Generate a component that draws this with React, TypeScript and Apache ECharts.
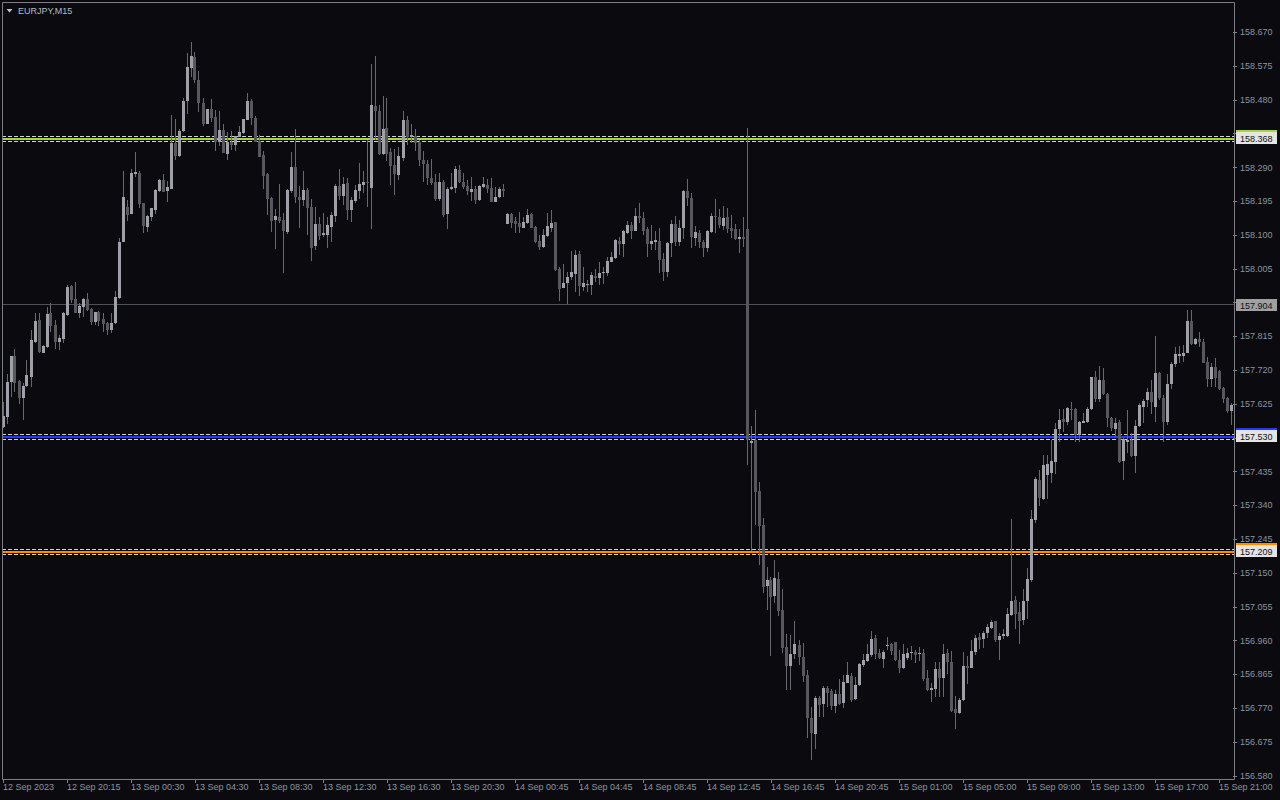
import React, { useEffect, useRef } from "react";
import * as echarts from "echarts";

// ---- Data (EURJPY, M15) ----
const opens = [
  157.561,157.590,157.687,157.760,157.690,157.642,157.676,157.702,157.800,157.861,
  157.769,157.785,157.882,157.847,157.800,157.809,157.875,157.958,157.921,157.882,
  157.899,157.921,157.892,157.857,157.884,157.864,157.853,157.833,157.854,157.924,
  158.080,158.178,158.159,158.273,158.276,158.189,158.124,158.152,158.171,158.225,
  158.255,158.224,158.230,158.360,158.323,158.393,158.478,158.569,158.601,158.536,
  158.471,158.413,158.455,158.432,158.363,158.396,158.328,158.363,158.353,158.377,
  158.387,158.424,158.477,158.430,158.365,158.325,158.272,158.204,158.142,158.150,
  158.142,158.109,158.224,158.292,158.208,158.199,158.227,158.180,158.069,158.131,
  158.100,158.100,158.123,158.155,158.238,158.211,158.246,158.171,158.197,158.225,
  158.241,158.249,158.233,158.463,158.450,158.328,158.400,158.335,158.297,158.269,
  158.318,158.424,158.375,158.379,158.363,158.311,158.300,158.260,158.250,158.201,
  158.250,158.159,158.229,158.233,158.283,158.250,158.238,158.221,158.231,158.199,
  158.236,158.241,158.232,158.194,158.206,158.231,158.131,158.159,158.140,158.135,
  158.121,158.133,158.159,158.124,158.084,158.067,158.098,158.121,158.137,158.006,
  157.950,157.966,157.981,157.990,158.047,157.955,157.960,157.960,157.985,157.980,
  157.994,157.994,158.025,158.037,158.084,158.075,158.105,158.128,158.111,158.154,
  158.147,158.116,158.075,158.082,158.084,158.032,157.996,158.077,158.131,158.082,
  158.119,158.224,158.203,158.092,158.105,158.082,158.065,158.109,158.154,158.151,
  158.126,158.152,158.121,158.116,158.090,158.095,158.118,157.516,157.523,157.382,
  157.284,157.114,157.129,157.086,157.132,157.045,156.942,156.890,156.922,156.948,
  156.914,156.862,156.743,156.697,156.800,156.782,156.826,156.818,156.776,156.810,
  156.784,156.842,156.860,156.795,156.835,156.891,156.903,156.919,156.966,156.926,
  156.908,156.946,156.950,156.955,156.905,156.882,156.910,156.924,156.928,156.923,
  156.924,156.854,156.821,156.824,156.879,156.854,156.924,156.901,156.768,156.757,
  156.793,156.889,156.884,156.929,156.971,156.964,156.982,156.996,157.015,156.962,
  156.973,156.973,157.032,157.074,157.040,157.018,157.071,157.130,157.299,157.412,
  157.358,157.426,157.432,157.463,157.555,157.583,157.575,157.612,157.610,157.538,
  157.573,157.575,157.611,157.700,157.638,157.693,157.653,157.587,157.554,157.575,
  157.466,157.517,157.524,157.479,157.563,157.617,157.636,157.659,157.617,157.713,
  157.643,157.575,157.681,157.738,157.760,157.760,157.769,157.859,157.793,157.808,
  157.800,157.744,157.696,157.730,157.719,157.669,157.643,157.606,
];
const highs = [
  157.632,157.710,157.760,157.779,157.693,157.683,157.749,157.833,157.880,157.882,
  157.791,157.899,157.908,157.861,157.819,157.885,157.960,157.961,157.967,157.908,
  157.922,157.936,157.894,157.885,157.886,157.880,157.857,157.880,157.944,158.093,
  158.281,158.199,158.285,158.335,158.280,158.189,158.157,158.177,158.230,158.258,
  158.272,158.253,158.438,158.426,158.398,158.485,158.611,158.642,158.614,158.561,
  158.485,158.455,158.483,158.452,158.449,158.412,158.391,158.393,158.380,158.408,
  158.426,158.499,158.483,158.435,158.381,158.337,158.274,158.208,158.173,158.243,
  158.161,158.230,158.334,158.398,158.238,158.280,158.233,158.201,158.178,158.150,
  158.161,158.152,158.164,158.243,158.286,158.264,158.260,158.208,158.241,158.302,
  158.280,158.367,158.581,158.603,158.466,158.491,158.485,158.344,158.342,158.349,
  158.449,158.435,158.412,158.397,158.367,158.337,158.311,158.313,158.272,158.276,
  158.255,158.234,158.274,158.295,158.297,158.276,158.255,158.262,158.238,158.241,
  158.262,158.257,158.260,158.234,158.234,158.244,158.161,158.161,158.152,158.166,
  158.150,158.174,158.161,158.126,158.100,158.116,158.163,158.171,158.137,158.011,
  158.018,157.997,158.055,158.058,158.055,158.011,157.974,157.996,158.004,158.024,
  158.011,158.038,158.053,158.088,158.095,158.114,158.140,158.138,158.175,158.191,
  158.166,158.124,158.128,158.111,158.121,158.049,158.082,158.143,158.154,158.143,
  158.227,158.258,158.219,158.126,158.114,158.086,158.114,158.161,158.201,158.173,
  158.182,158.177,158.157,158.131,158.116,158.152,158.402,157.563,157.607,157.405,
  157.306,157.166,157.140,157.187,157.152,157.105,156.979,156.977,157.016,156.963,
  156.952,156.877,156.774,156.804,156.804,156.833,156.833,156.823,156.821,156.851,
  156.863,156.901,156.868,156.858,156.898,156.921,156.950,156.987,156.977,156.936,
  156.934,156.969,156.952,156.955,156.934,156.950,156.940,156.944,156.934,156.941,
  156.936,156.877,156.842,156.901,156.901,156.950,156.936,156.930,156.804,156.799,
  156.927,156.917,156.962,156.976,156.982,156.988,157.006,157.018,157.015,156.980,
  156.993,157.051,157.302,157.085,157.069,157.105,157.165,157.327,157.419,157.440,
  157.482,157.482,157.524,157.573,157.611,157.611,157.617,157.632,157.613,157.576,
  157.601,157.617,157.702,157.719,157.732,157.726,157.657,157.589,157.587,157.580,
  157.531,157.608,157.543,157.580,157.629,157.638,157.669,157.693,157.816,157.716,
  157.651,157.710,157.744,157.786,157.788,157.791,157.890,157.890,157.810,157.828,
  157.807,157.758,157.740,157.754,157.721,157.674,157.646,157.627,
];
const lows = [
  157.558,157.569,157.646,157.660,157.625,157.580,157.674,157.674,157.797,157.769,
  157.768,157.782,157.828,157.779,157.777,157.797,157.873,157.908,157.880,157.868,
  157.870,157.888,157.847,157.847,157.845,157.828,157.819,157.826,157.850,157.921,
  158.080,158.140,158.159,158.264,158.175,158.107,158.110,158.140,158.159,158.220,
  158.220,158.194,158.230,158.311,158.320,158.391,158.440,158.545,158.529,158.445,
  158.408,158.412,158.417,158.337,158.351,158.330,158.312,158.339,158.337,158.376,
  158.385,158.423,158.410,158.361,158.320,158.230,158.157,158.110,158.061,158.133,
  157.993,158.103,158.219,158.191,158.121,158.182,158.100,158.028,158.058,158.086,
  158.095,158.065,158.082,158.138,158.199,158.185,158.143,158.138,158.189,158.201,
  158.218,158.180,158.117,158.367,158.325,158.325,158.309,158.241,158.213,158.255,
  158.308,158.353,158.358,158.337,158.295,158.248,158.241,158.241,158.197,158.197,
  158.152,158.117,158.227,158.219,158.246,158.229,158.213,158.197,158.188,158.197,
  158.232,158.219,158.194,158.194,158.203,158.208,158.131,158.119,158.107,158.107,
  158.119,158.131,158.119,158.079,158.058,158.065,158.095,158.110,158.000,157.916,
  157.950,157.906,157.974,157.939,157.928,157.944,157.941,157.932,157.969,157.960,
  157.963,157.985,158.025,158.032,158.044,158.039,158.103,158.088,158.111,158.133,
  158.100,158.039,158.058,158.058,157.993,157.972,157.982,158.038,158.068,158.068,
  158.089,158.183,158.065,158.068,158.063,158.038,158.053,158.105,158.107,158.119,
  158.114,158.105,158.091,158.086,158.049,158.066,157.455,157.212,157.286,157.172,
  157.094,157.047,156.917,157.065,157.030,156.925,156.822,156.822,156.907,156.892,
  156.845,156.687,156.624,156.654,156.746,156.746,156.774,156.765,156.757,156.779,
  156.770,156.840,156.788,156.793,156.831,156.887,156.901,156.915,156.907,156.907,
  156.884,156.934,156.919,156.903,156.870,156.879,156.905,156.905,156.898,156.903,
  156.847,156.818,156.788,156.801,156.801,156.801,156.866,156.760,156.712,156.753,
  156.791,156.838,156.882,156.919,156.936,156.940,156.968,156.994,156.955,156.905,
  156.964,156.971,157.029,156.993,156.951,157.004,157.020,157.126,157.292,157.338,
  157.355,157.358,157.404,157.429,157.519,157.546,157.566,157.580,157.517,157.517,
  157.571,157.573,157.608,157.632,157.632,157.651,157.561,157.549,157.533,157.460,
  157.412,157.487,157.477,157.431,157.561,157.573,157.617,157.597,157.575,157.636,
  157.517,157.566,157.666,157.730,157.740,157.744,157.768,157.791,157.791,157.786,
  157.740,157.674,157.672,157.672,157.665,157.629,157.599,157.566,
];
const closes = [
  157.592,157.687,157.760,157.685,157.642,157.676,157.706,157.805,157.859,157.772,
  157.788,157.879,157.845,157.800,157.810,157.880,157.955,157.918,157.880,157.901,
  157.921,157.890,157.857,157.884,157.859,157.850,157.833,157.852,157.927,158.082,
  158.206,158.157,158.276,158.278,158.188,158.127,158.154,158.175,158.227,158.255,
  158.222,158.235,158.360,158.323,158.393,158.477,158.573,158.604,158.536,158.471,
  158.412,158.455,158.430,158.363,158.396,158.332,158.361,158.353,158.380,158.391,
  158.426,158.477,158.430,158.363,158.320,158.267,158.201,158.140,158.154,158.140,
  158.112,158.227,158.292,158.208,158.199,158.227,158.176,158.065,158.131,158.097,
  158.105,158.128,158.157,158.238,158.211,158.244,158.171,158.199,158.227,158.243,
  158.249,158.247,158.466,158.450,158.328,158.398,158.328,158.294,158.272,158.322,
  158.424,158.377,158.381,158.360,158.311,158.300,158.260,158.246,158.201,158.250,
  158.157,158.230,158.235,158.286,158.250,158.234,158.224,158.231,158.199,158.238,
  158.244,158.231,158.194,158.207,158.230,158.225,158.159,158.135,158.131,158.122,
  158.137,158.157,158.121,158.082,158.066,158.100,158.126,158.135,158.002,157.948,
  157.964,157.981,157.995,158.044,157.957,157.965,157.963,157.987,157.980,157.994,
  157.997,158.027,158.039,158.086,158.075,158.111,158.128,158.111,158.154,158.147,
  158.111,158.075,158.084,158.086,158.030,157.996,158.077,158.131,158.082,158.119,
  158.224,158.203,158.095,158.109,158.082,158.065,158.111,158.155,158.151,158.128,
  158.149,158.116,158.111,158.090,158.095,158.090,157.525,157.521,157.377,157.283,
  157.110,157.129,157.082,157.135,157.044,156.939,156.890,156.921,156.950,156.915,
  156.861,156.743,156.701,156.800,156.779,156.826,156.812,156.776,156.810,156.782,
  156.844,156.863,156.793,156.835,156.894,156.905,156.922,156.964,156.922,156.910,
  156.927,156.948,156.931,156.905,156.882,156.922,156.924,156.928,156.919,156.926,
  156.851,156.821,156.826,156.879,156.854,156.922,156.901,156.763,156.757,156.793,
  156.889,156.884,156.931,156.968,156.962,156.982,156.998,157.013,156.962,156.973,
  156.979,157.035,157.071,157.035,157.016,157.071,157.133,157.302,157.414,157.362,
  157.454,157.457,157.465,157.555,157.580,157.575,157.614,157.609,157.538,157.575,
  157.577,157.611,157.700,157.638,157.693,157.653,157.587,157.558,157.573,157.463,
  157.526,157.524,157.479,157.563,157.622,157.635,157.659,157.630,157.713,157.643,
  157.575,157.681,157.738,157.766,157.766,157.769,157.859,157.793,157.808,157.800,
  157.741,157.696,157.730,157.698,157.667,157.640,157.606,157.622,
];

// time labels shown every 16 bars
const timeLabels = [
  "12 Sep 2023", "12 Sep 20:15", "13 Sep 00:30", "13 Sep 04:30", "13 Sep 08:30",
  "13 Sep 12:30", "13 Sep 16:30", "13 Sep 20:30", "14 Sep 00:45", "14 Sep 04:45",
  "14 Sep 08:45", "14 Sep 12:45", "14 Sep 16:45", "14 Sep 20:45", "15 Sep 01:00",
  "15 Sep 05:00", "15 Sep 09:00", "15 Sep 13:00", "15 Sep 17:00", "15 Sep 21:00",
];
const barsPerLabel = 16;

// tick marks of the price scale
const priceTicks = [
  156.580, 156.675, 156.770, 156.865, 156.960, 157.055, 157.150, 157.245,
  157.340, 157.435, 157.530, 157.625, 157.720, 157.815, 157.910, 158.005,
  158.100, 158.195, 158.290, 158.385, 158.480, 158.575, 158.670,
];
// tick labels that are visible (the others sit under the price tags)
const priceTickLabels = [
  156.580, 156.675, 156.770, 156.865, 156.960, 157.055, 157.150, 157.245,
  157.340, 157.435, 157.625, 157.720, 157.815, 158.005,
  158.100, 158.195, 158.290, 158.480, 158.575, 158.670,
];

const levelPrices = [158.368, 157.530, 157.209];
const levelColors = ["#a6d63a", "#2438ff", "#ff8c00"];
const bidPrice = 157.904;
const chartTitle = "EURJPY,M15";

const BG = "#0a0a0f";
const FRAME = "#7d7d84";
const LABEL = "#8c94a2";
const BULL = "#a0a0a8";
const BEAR = "#57575d";
const WICK = "#68686e";
const DASH = "#d4d4d8";
const FONT = "'Liberation Sans', Arial, sans-serif";

export default function App() {
  const ref = useRef<HTMLDivElement>(null);

  useEffect(() => {
    const el = ref.current as HTMLDivElement;
    const chart = echarts.init(el, null, { renderer: "svg" });
    const cats = opens.map((_, i) => String(i));
    const data = opens.map((o, i) => [i, o, closes[i], lows[i], highs[i]]);

    const option: any = {
      animation: false,
      backgroundColor: BG,
      grid: { left: 1, top: 2, width: 1232, height: 777 },
      xAxis: {
        type: "category",
        data: cats,
        boundaryGap: true,
        axisLine: { show: false },
        splitLine: { show: false },
        axisTick: {
          show: true,
          alignWithLabel: true,
          interval: (i: number) => i % barsPerLabel === 0,
          length: 4,
          lineStyle: { color: FRAME },
        },
        axisLabel: {
          interval: (i: number) => i % barsPerLabel === 0,
          formatter: (_v: string, i: number) => timeLabels[Math.round(i / barsPerLabel)] ?? "",
          align: "left",
          margin: 3,
          color: LABEL,
          fontSize: 9,
          fontFamily: FONT,
        },
      },
      yAxis: {
        type: "value",
        position: "right",
        min: 156.5709,
        max: 158.7554,
        axisLine: { show: false },
        splitLine: { show: false },
        axisTick: {
          show: true,
          customValues: priceTicks,
          length: 4,
          lineStyle: { color: FRAME },
        },
        axisLabel: {
          customValues: priceTickLabels,
          formatter: (v: number) => v.toFixed(3),
          margin: 7,
          color: LABEL,
          fontSize: 9,
          fontFamily: FONT,
        },
      },
      series: [
        {
          type: "custom",
          name: "EURJPY",
          data,
          encode: { x: 0, y: [1, 2, 3, 4] },
          z: 2,
          renderItem: (_params: any, api: any) => {
            const idx = api.value(0);
            const o = api.value(1);
            const c = api.value(2);
            const l = api.value(3);
            const h = api.value(4);
            const po = api.coord([idx, o]);
            const pc = api.coord([idx, c]);
            const pl = api.coord([idx, l]);
            const ph = api.coord([idx, h]);
            const cx = Math.floor(po[0]);
            const top = Math.round(Math.min(po[1], pc[1]));
            const bot = Math.round(Math.max(po[1], pc[1]));
            const yh = Math.round(ph[1]);
            const yl = Math.round(pl[1]);
            return {
              type: "group",
              children: [
                {
                  type: "rect",
                  shape: { x: cx, y: yh, width: 1, height: Math.max(1, yl - yh) },
                  style: { fill: WICK },
                },
                {
                  type: "rect",
                  shape: { x: cx - 1, y: top, width: 3, height: Math.max(1, bot - top) },
                  style: { fill: c > o ? BULL : BEAR },
                },
              ],
            };
          },
        },
      ],
    };
    chart.setOption(option);

    const yRow = (p: number) => Math.floor(chart.convertToPixel({ yAxisIndex: 0 }, p) as number);
    const x0 = 2;
    const x1 = 1234;
    const graphics: any[] = [];

    // bid line
    const yb = yRow(bidPrice) + 0.5;
    graphics.push({
      type: "line", z: 1, silent: true,
      shape: { x1: x0, y1: yb, x2: x1, y2: yb },
      style: { stroke: "#505058", lineWidth: 1 },
    });

    levelPrices.forEach((p, k) => {
      const r = yRow(p) - 1; // first row of the 2px coloured line
      [r - 1.5, r + 3.5].forEach((yy) =>
        graphics.push({
          type: "line", z: 1, silent: true,
          shape: { x1: x0, y1: yy, x2: x1, y2: yy },
          style: { stroke: DASH, lineWidth: 1, lineDash: [4, 2] },
        })
      );
      graphics.push({
        type: "rect", z: 1, silent: true,
        shape: { x: x0, y: r, width: x1 - x0, height: 2 },
        style: { fill: levelColors[k] },
      });
      const top = r - 8;
      graphics.push({
        type: "rect", z: 100, silent: true,
        shape: { x: 1236, y: top, width: 41, height: 14 },
        style: { fill: "#e4e4e4" },
      });
      graphics.push({
        type: "rect", z: 101, silent: true,
        shape: { x: 1236, y: top, width: 41, height: 2 },
        style: { fill: levelColors[k] },
      });
      graphics.push({
        type: "text", z: 102, silent: true,
        x: 1240, y: top + 8.5,
        style: {
          text: p.toFixed(3), fill: "#111111", font: `9px ${FONT}`,
          textAlign: "left", textVerticalAlign: "middle",
        },
      });
    });

    // bid label
    const btop = Math.round(yb - 6);
    graphics.push({
      type: "rect", z: 100, silent: true,
      shape: { x: 1236, y: btop, width: 41, height: 12 },
      style: { fill: "#a0a0a0" },
    });
    graphics.push({
      type: "text", z: 102, silent: true,
      x: 1240, y: btop + 6.5,
      style: {
        text: bidPrice.toFixed(3), fill: "#111111", font: `9px ${FONT}`,
        textAlign: "left", textVerticalAlign: "middle",
      },
    });

    // frame
    graphics.push({
      type: "rect", z: 50, silent: true,
      shape: { x: 2.5, y: 2.5, width: 1232, height: 777 },
      style: { fill: "none", stroke: FRAME, lineWidth: 1 },
    });

    // title
    graphics.push({
      type: "polygon", z: 60, silent: true,
      shape: { points: [[6.5, 9], [12.5, 9], [9.5, 12.5]] },
      style: { fill: "#c4c4c8" },
    });
    graphics.push({
      type: "text", z: 60, silent: true,
      x: 18, y: 11,
      style: {
        text: chartTitle, fill: "#b4bac4", font: `9px ${FONT}`,
        textAlign: "left", textVerticalAlign: "middle",
      },
    });

    chart.setOption({ graphic: graphics });

    return () => chart.dispose();
  }, []);

  return (
    <div
      ref={ref}
      style={{ position: "fixed", left: 0, top: 0, width: 1280, height: 800, background: BG }}
    />
  );
}
